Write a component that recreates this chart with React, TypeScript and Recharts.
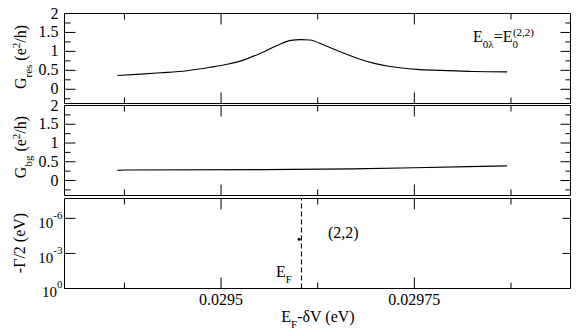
import React from 'react';
import { LineChart, Line, XAxis, YAxis, ReferenceLine } from 'recharts';

// resonant conductance G_res vs E_F - dV
const gresEnergy = [
  0.029366, 0.029396, 0.029422, 0.029456, 0.029486, 0.029508, 0.029529, 0.029551,
  0.029572, 0.02959, 0.029603, 0.029615, 0.029633, 0.029654, 0.029676, 0.029697,
  0.029719, 0.029753, 0.029784, 0.029827, 0.02987,
];
const gresValues = [
  0.365, 0.4, 0.435, 0.49, 0.58, 0.66, 0.77, 0.95,
  1.15, 1.29, 1.31, 1.3, 1.17, 0.99, 0.82, 0.69,
  0.6, 0.525, 0.5, 0.47, 0.46,
];

// background conductance G_bg
const gbgEnergy = [0.029366, 0.029375, 0.029555, 0.02967, 0.02975, 0.02982, 0.02987];
const gbgValues = [0.27, 0.28, 0.29, 0.31, 0.34, 0.37, 0.39];

// -Gamma/2 of the (2,2) level
const widthEnergy = [0.029601];
const widthValues = [6e-5];
const fermiEnergy = 0.029604;

const xDomain = [0.0292975, 0.029952];
const xMajor = [0.0295, 0.02975];
const xTicks = [0.029375, 0.0295, 0.029625, 0.02975, 0.029875];
const gMajor = [0, 0.5, 1, 1.5, 2];
const gTicks = [-0.25, 0, 0.25, 0.5, 0.75, 1, 1.25, 1.5, 1.75, 2];
const gammaTicks = [1e-6, 1e-3, 1];
const gammaExp: Record<string, string> = { '0.000001': '-6', '0.001': '-3', '1': '0' };

const gresData = gresEnergy.map((x, i) => ({ x, g: gresValues[i] }));
const gbgData = gbgEnergy.map((x, i) => ({ x, g: gbgValues[i] }));
const widthData = widthEnergy.map((x, i) => ({ x, g: widthValues[i] }));

const FONT = 'Liberation Serif, Times New Roman, Times, Nimbus Roman, Noto Serif, DejaVu Serif, FreeSerif, serif';
const txt: React.CSSProperties = { fontFamily: FONT };
const W = 576;
const H = 336;

const leftTick = (major: number[], log = false) => (p: any) => {
  const { x, y, payload } = p;
  const v = payload.value;
  const isMajor = log || major.includes(v);
  return (
    <g>
      <line x1={x} y1={y} x2={x + (isMajor ? 11 : 6)} y2={y} stroke="#000" />
      {isMajor && !log && (
        <text x={x - 6} y={y + 5} textAnchor="end" fontSize={16} style={txt}>{String(v)}</text>
      )}
      {log && (
        <text x={x - 2} y={y + (v === 1 ? 8 : 10)} textAnchor="end" fontSize={15} style={txt}>
          10<tspan fontSize={11} dy={-9}>{gammaExp[String(v)]}</tspan>
        </text>
      )}
    </g>
  );
};

const rightTick = (major: number[], log = false) => (p: any) => {
  const { x, y, payload } = p;
  const isMajor = log || major.includes(payload.value);
  return <line x1={x} y1={y} x2={x - (isMajor ? (log ? 8 : 10) : 5)} y2={y} stroke="#000" />;
};

const bottomTick = (labels: boolean) => (p: any) => {
  const { x, y, payload } = p;
  const isMajor = xMajor.includes(payload.value);
  return (
    <g>
      <line x1={x} y1={y} x2={x} y2={y - (isMajor ? 11 : 6)} stroke="#000" />
      {labels && isMajor && (
        <text x={x} y={y + 16} textAnchor="middle" fontSize={16} style={txt}>{String(payload.value)}</text>
      )}
    </g>
  );
};

const topTick = (p: any) => {
  const { x, y, payload } = p;
  const isMajor = xMajor.includes(payload.value);
  return <line x1={x} y1={y} x2={x} y2={y + (isMajor ? 11 : 6)} stroke="#000" />;
};

const axisLine = { stroke: '#000', strokeWidth: 1 };

function xAxes(topH: number, bottomH: number, labels: boolean) {
  return [
    <XAxis key="b" xAxisId="b" dataKey="x" type="number" domain={xDomain} ticks={xTicks} interval={0}
      height={bottomH} tickSize={0} tickMargin={0} axisLine={axisLine} tickLine={false}
      tick={bottomTick(labels)} allowDataOverflow />,
    <XAxis key="t" xAxisId="t" dataKey="x" type="number" orientation="top" domain={xDomain} ticks={xTicks}
      interval={0} height={topH} tickSize={0} tickMargin={0} axisLine={axisLine} tickLine={false}
      tick={topTick} allowDataOverflow />,
  ];
}

function gAxes(domain: number[]) {
  return [
    <YAxis key="l" yAxisId="l" type="number" domain={domain} ticks={gTicks} interval={0} width={64.5}
      tickSize={0} tickMargin={0} axisLine={axisLine} tickLine={false} tick={leftTick(gMajor)} allowDataOverflow />,
    <YAxis key="r" yAxisId="r" orientation="right" type="number" domain={domain} ticks={gTicks} interval={0}
      width={5.5} tickSize={0} tickMargin={0} axisLine={axisLine} tickLine={false} tick={rightTick(gMajor)} allowDataOverflow />,
  ];
}

const layer: React.CSSProperties = { position: 'absolute', left: 0, top: 0 };

export default function App() {
  return (
    <div style={{ position: 'absolute', left: 0, top: 0, width: W, height: H, background: '#fff', fontFamily: FONT }}>
      <div style={layer}>
        <LineChart width={W} height={H} data={gresData} margin={{ top: 0, right: 0, bottom: 0, left: 0 }}>
          {xAxes(13.5, H - 103.5, false)}
          {gAxes([-0.375, 2])}
          <Line xAxisId="b" yAxisId="l" dataKey="g" type="monotone" stroke="#000" strokeWidth={1.1}
            dot={false} isAnimationActive={false} />
        </LineChart>
      </div>
      <div style={layer}>
        <LineChart width={W} height={H} data={gbgData} margin={{ top: 0, right: 0, bottom: 0, left: 0 }}>
          {xAxes(105.5, H - 195.5, false)}
          {gAxes([-0.4, 2])}
          <Line xAxisId="b" yAxisId="l" dataKey="g" type="linear" stroke="#000" strokeWidth={1.1}
            dot={false} isAnimationActive={false} />
        </LineChart>
      </div>
      <div style={layer}>
        <LineChart width={W} height={H} data={widthData} margin={{ top: 0, right: 0, bottom: 0, left: 0 }}>
          {xAxes(198.5, H - 288.5, true)}
          <YAxis yAxisId="l" type="number" scale="log" reversed domain={[2e-8, 1]} ticks={gammaTicks}
            interval={0} width={64.5} tickSize={0} tickMargin={0} axisLine={axisLine} tickLine={false}
            tick={leftTick([], true)} allowDataOverflow />
          <YAxis yAxisId="r" orientation="right" type="number" scale="log" reversed domain={[2e-8, 1]}
            ticks={gammaTicks} interval={0} width={5.5} tickSize={0} tickMargin={0} axisLine={axisLine}
            tickLine={false} tick={rightTick([], true)} allowDataOverflow />
          <ReferenceLine xAxisId="b" yAxisId="l" x={fermiEnergy} stroke="#000" strokeWidth={1.1}
            strokeDasharray="5 3" />
          <Line xAxisId="b" yAxisId="l" dataKey="g" stroke="none"
            dot={{ r: 1.5, fill: '#000', stroke: 'none' }} isAnimationActive={false} />
        </LineChart>
      </div>
      <svg width={W} height={H} style={{ ...layer, pointerEvents: 'none', fontFamily: FONT }}>
        <text transform="translate(26,57) rotate(-90)" textAnchor="middle" fontSize={16}>
          G<tspan fontSize={11} baselineShift="sub">res</tspan> (e<tspan fontSize={11} baselineShift="super">2</tspan>/h)
        </text>
        <text transform="translate(26,147) rotate(-90)" textAnchor="middle" fontSize={16}>
          G<tspan fontSize={11} baselineShift="sub">bg</tspan> (e<tspan fontSize={11} baselineShift="super">2</tspan>/h)
        </text>
        <text transform="translate(25,243) rotate(-90)" textAnchor="middle" fontSize={16}>-Γ/2 (eV)</text>
        <text x={318} y={322} textAnchor="middle" fontSize={16}>
          E<tspan fontSize={11} baselineShift="sub">F</tspan>-δV (eV)
        </text>
        <text x={473} y={42} fontSize={16}>
          E<tspan fontSize={11} baselineShift="sub">0λ</tspan>=E<tspan fontSize={11} baselineShift="sub">0</tspan>
          <tspan fontSize={11} dx={-5} baselineShift="super">(2,2)</tspan>
        </text>
        <text x={328} y={238} fontSize={16}>(2,2)</text>
        <text x={276} y={277} fontSize={16}>
          E<tspan fontSize={11} baselineShift="sub">F</tspan>
        </text>
      </svg>
    </div>
  );
}
